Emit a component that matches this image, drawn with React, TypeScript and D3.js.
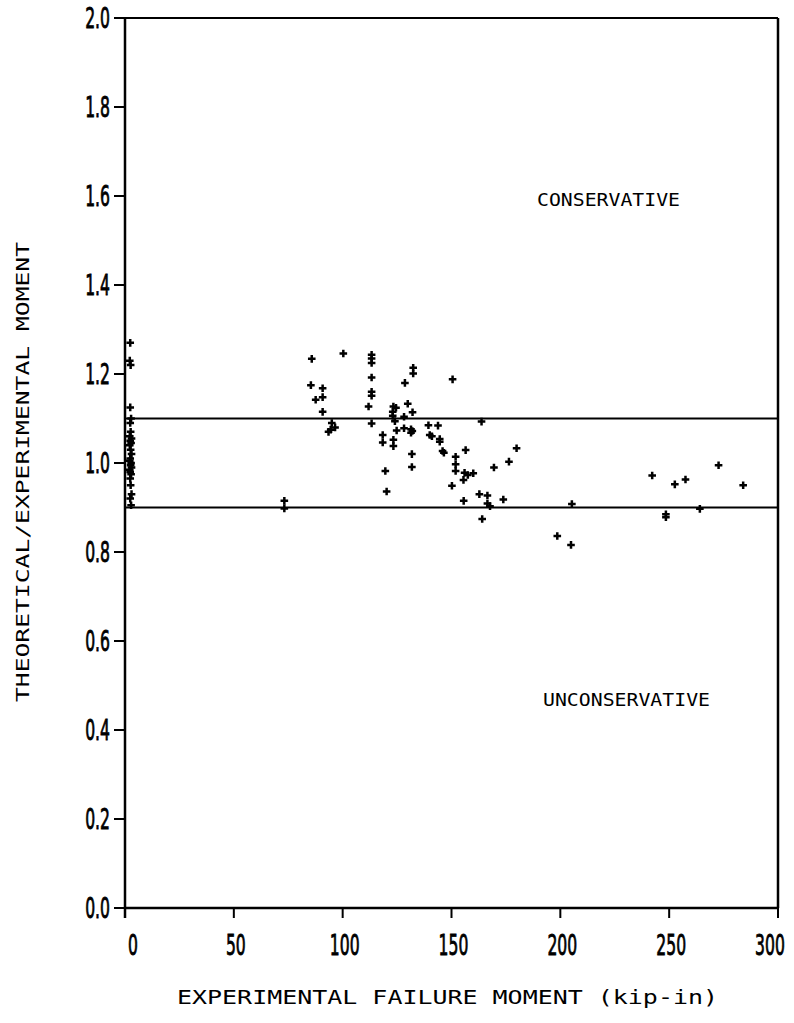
import React from "react";
import * as d3 from "d3";

const W = 794;
const H = 1023;

const xTicks = [0, 50, 100, 150, 200, 250, 300];
const yTicks = [0.0, 0.2, 0.4, 0.6, 0.8, 1.0, 1.2, 1.4, 1.6, 1.8, 2.0];
const boundLines = [0.9, 1.1];

// near-zero tests
const nearZeroX = [2.4, 2.2, 2.6, 2.4, 2.8, 2.4, 2.6, 2.2, 3.0, 2.4, 2.8, 2.2, 2.6, 3.0, 2.4, 2.2, 2.8, 2.6, 3.0, 2.2, 2.4, 2.8, 2.4, 2.6, 3.0, 2.4, 2.8];
const nearZeroY = [1.27, 1.23, 1.22, 1.125, 1.10, 1.09, 1.07, 1.06, 1.055, 1.05, 1.045, 1.04, 1.03, 1.02, 1.01, 1.005, 1.0, 0.995, 0.99, 0.985, 0.98, 0.975, 0.965, 0.95, 0.93, 0.92, 0.905];

// remaining tests
const momentX = [
  85.8, 100.3, 113.3, 113.3, 113.3, 113.3, 113.3, 113.3, 111.9, 113.3,
  85.4, 90.8, 90.8, 87.6, 90.8, 95.0, 96.5, 94.5, 93.5,
  132.4, 132.4, 128.6, 150.5, 129.9, 123.3, 124.5, 123.0, 132.1, 124.0, 128.2, 123.0,
  128.2, 124.8, 131.4, 131.4, 132.0, 118.4, 118.4, 123.3, 123.3,
  139.4, 140.0, 141.0, 143.8, 144.6, 144.6, 145.9, 146.5, 131.8, 131.8,
  119.6, 120.2, 151.9, 151.9, 151.9, 150.2, 156.5, 156.0, 155.5, 157.5, 155.6,
  73.2, 73.2, 163.8, 179.9, 176.4, 169.5, 160.0, 162.8, 166.5, 173.8, 166.5, 167.7,
  164.1, 205.3, 198.6, 204.9,
  242.2, 252.6, 257.5, 272.7, 284.0, 248.5, 248.5, 264.1,
];
const ratioY = [
  1.234, 1.246, 1.243, 1.235, 1.225, 1.192, 1.160, 1.151, 1.127, 1.089,
  1.175, 1.168, 1.148, 1.142, 1.115, 1.090, 1.080, 1.075, 1.070,
  1.214, 1.201, 1.180, 1.188, 1.133, 1.127, 1.124, 1.115, 1.114, 1.094, 1.104, 1.106,
  1.078, 1.073, 1.076, 1.068, 1.072, 1.063, 1.046, 1.052, 1.038,
  1.085, 1.063, 1.060, 1.084, 1.054, 1.048, 1.027, 1.023, 1.020, 0.991,
  0.982, 0.936, 1.014, 0.997, 0.982, 0.949, 1.029, 0.978, 0.962, 0.973, 0.915,
  0.915, 0.898, 1.093, 1.033, 1.003, 0.990, 0.977, 0.930, 0.927, 0.918, 0.909, 0.903,
  0.874, 0.908, 0.836, 0.816,
  0.972, 0.952, 0.963, 0.995, 0.950, 0.885, 0.878, 0.897,
];

const conservativeLabel = "CONSERVATIVE";
const unconservativeLabel = "UNCONSERVATIVE";
const xTitle = "EXPERIMENTAL FAILURE MOMENT (kip-in)";
const yTitle = "THEORETICAL/EXPERIMENTAL MOMENT";

export default function App() {
  const left = 125, right = 778, top = 18, bottom = 908;
  const x = d3.scaleLinear().domain([0, 300]).range([left, right]);
  const y = d3.scaleLinear().domain([0, 2]).range([bottom, top]);

  const pts = [
    ...nearZeroX.map((v, i) => [v, nearZeroY[i]]),
    ...momentX.map((v, i) => [v, ratioY[i]]),
  ];
  const s = 3.8;
  const tickFont = "'DejaVu Sans Condensed', 'DejaVu Sans', sans-serif";
  const monoFont = "'DejaVu Sans Mono', monospace";

  return (
    <svg width={W} height={H} style={{ position: "absolute", left: 0, top: 0, background: "#fff" }}>
      <rect x={0} y={0} width={W} height={H} fill="#fff" />
      {/* frame */}
      <line x1={left} x2={right} y1={top} y2={top} stroke="#000" strokeWidth={2} />
      <line x1={right} x2={right} y1={top} y2={bottom} stroke="#000" strokeWidth={2.5} />
      <line x1={left} x2={right} y1={bottom} y2={bottom} stroke="#000" strokeWidth={2.5} />
      <line x1={left} x2={left} y1={top} y2={bottom + 10} stroke="#000" strokeWidth={2.5} />
      {boundLines.map((b) => (
        <line key={b} x1={left} x2={right} y1={y(b)} y2={y(b)} stroke="#000" strokeWidth={2} />
      ))}
      {/* y ticks */}
      {yTicks.map((t) => (
        <g key={t}>
          <line x1={left - 11} x2={left} y1={y(t)} y2={y(t)} stroke="#000" strokeWidth={2} />
          <text
            x={0}
            y={0}
            transform={`translate(${left - 15},${y(t) + 10}) scale(0.62,1)`}
            textAnchor="end"
            fontFamily={tickFont}
            fontSize={28}
            fill="#000"
            stroke="#000"
            strokeWidth={0.8}
          >
            {t.toFixed(1)}
          </text>
        </g>
      ))}
      {/* x ticks */}
      {xTicks.map((t) => (
        <g key={t}>
          <line x1={x(t)} x2={x(t)} y1={bottom} y2={bottom + 10} stroke="#000" strokeWidth={2} />
          <text
            x={0}
            y={0}
            transform={`translate(${x(t) + (t === 0 ? 8 : t === 300 ? -8 : 2)},${bottom + 47}) scale(0.62,1)`}
            textAnchor="middle"
            fontFamily={tickFont}
            fontSize={28}
            fill="#000"
            stroke="#000"
            strokeWidth={0.8}
          >
            {t}
          </text>
        </g>
      ))}
      {/* points */}
      {pts.map(([a, b], i) => (
        <path
          key={i}
          d={`M${x(a) - s},${y(b)}H${x(a) + s}M${x(a)},${y(b) - s}V${y(b) + s}`}
          stroke="#000"
          strokeWidth={2.5}
        />
      ))}
      <text x={537} y={206} fontFamily={monoFont} fontSize={17} textLength={143} lengthAdjust="spacingAndGlyphs" fill="#000">
        {conservativeLabel}
      </text>
      <text x={543} y={706} fontFamily={monoFont} fontSize={17} textLength={167} lengthAdjust="spacingAndGlyphs" fill="#000">
        {unconservativeLabel}
      </text>
      <text x={177} y={1004} fontFamily={monoFont} fontSize={19} textLength={541} lengthAdjust="spacingAndGlyphs" fill="#000">
        {xTitle}
      </text>
      <text
        transform="translate(29,702) rotate(-90)"
        x={0}
        y={0}
        fontFamily={monoFont}
        fontSize={18}
        textLength={460}
        lengthAdjust="spacingAndGlyphs"
        fill="#000"
      >
        {yTitle}
      </text>
    </svg>
  );
}
